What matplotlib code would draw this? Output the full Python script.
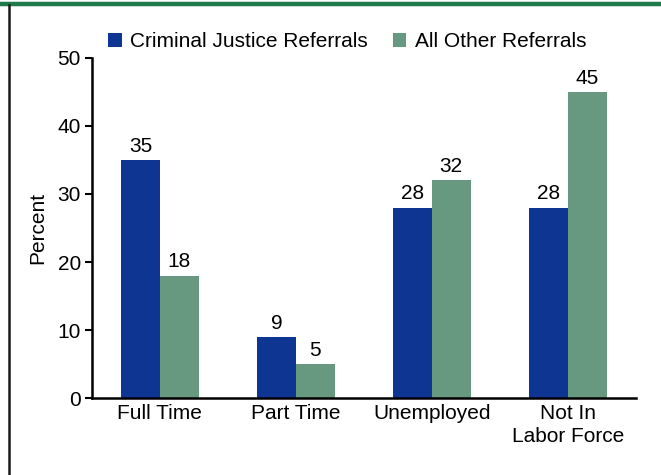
import matplotlib
matplotlib.use("Agg")
import matplotlib.pyplot as plt
from matplotlib.lines import Line2D
import numpy as np

plt.rcParams['font.family'] = ['Liberation Sans', 'DejaVu Sans']

categories = ["Full Time", "Part Time", "Unemployed", "Not In\nLabor Force"]
criminal_justice = [35, 9, 28, 28]
all_other = [18, 5, 32, 45]

blue = "#0d3591"
green = "#669980"
fs = 15

fig = plt.figure(figsize=(6.61, 4.75), dpi=100)
ax = fig.add_axes([0.139, 0.162, 0.823, 0.716])

x = np.arange(len(categories))
w = 0.285
b1 = ax.bar(x - w / 2, criminal_justice, w, color=blue, label="Criminal Justice Referrals")
b2 = ax.bar(x + w / 2, all_other, w, color=green, label="All Other Referrals")

# value labels above each bar
for bars in (b1, b2):
    for rect in bars:
        h = rect.get_height()
        ax.annotate(f"{h:.0f}", (rect.get_x() + rect.get_width() / 2, h),
                    xytext=(0, 3), textcoords="offset points",
                    ha="center", va="bottom", fontsize=fs)

ax.set_xlim(-0.5, 3.5)
ax.set_ylim(0, 50)
ax.set_yticks(range(0, 51, 10))
ax.set_xticks(x)
ax.set_xticklabels(categories, fontsize=fs, linespacing=1.3)
ax.tick_params(axis="y", labelsize=fs, length=5, width=1.5, pad=3)
ax.tick_params(axis="x", length=0, pad=4)
ax.set_ylabel("Percent", fontsize=fs, labelpad=7)

for side in ("top", "right"):
    ax.spines[side].set_visible(False)
for side in ("left", "bottom"):
    ax.spines[side].set_linewidth(1.8)

fig.legend(loc="center", bbox_to_anchor=(0.525, 0.912), ncol=2, frameon=False,
           fontsize=fs, handlelength=0.65, handleheight=0.65,
           handletextpad=0.4, columnspacing=1.2, borderpad=0)

# frame: green strip on top, black line on the left
fig.add_artist(Line2D([0, 1], [0.991, 0.991], transform=fig.transFigure,
                      color="#1f7a4a", linewidth=3.2))
fig.add_artist(Line2D([0.0137, 0.0137], [0, 0.99], transform=fig.transFigure,
                      color="#1a1a1a", linewidth=1.8))

fig.savefig("out.png", dpi=100)
